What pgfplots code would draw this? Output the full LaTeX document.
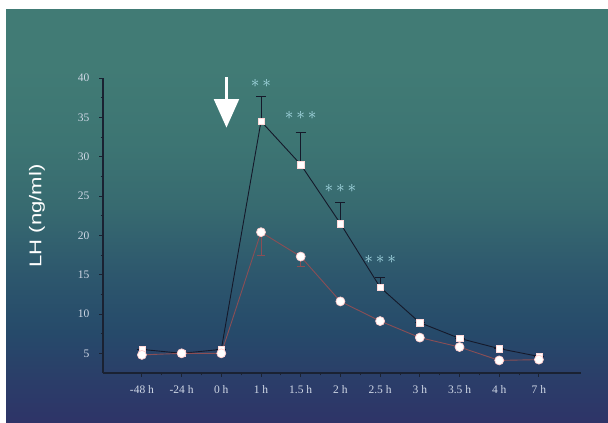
\documentclass[border=0pt]{standalone}
\usepackage{fontspec}
\setmainfont{Liberation Serif}
\newfontfamily\labelfont{Liberation Sans}
\usepackage{pgfplots}
\pgfplotsset{compat=1.18}
\usepackage{pgfplotstable}

\definecolor{bgA}{HTML}{2E3468}
\definecolor{bgB}{HTML}{2B3D69}
\definecolor{bgC}{HTML}{264A6A}
\definecolor{bgD}{HTML}{2D576D}
\definecolor{bgE}{HTML}{376A70}
\definecolor{bgF}{HTML}{3D7573}
\definecolor{bgG}{HTML}{417B75}
\definecolor{axcol}{HTML}{1A2232}
\definecolor{ticklab}{HTML}{D0D8E6}
\definecolor{starcol}{HTML}{A8DCE6}
\definecolor{sqline}{HTML}{15192A}
\definecolor{ciline}{HTML}{8A4E55}

\pgfdeclareverticalshading{bgshade}{100bp}{%
  color(0bp)=(bgA); color(25bp)=(bgA); color(30bp)=(bgB); color(36bp)=(bgC);
  color(43bp)=(bgD); color(51bp)=(bgE); color(59bp)=(bgF); color(68bp)=(bgG);
  color(75bp)=(bgG); color(100bp)=(bgG)}

\pgfplotstableread{
idx sq sqerr ci cierr
0 5.5 0 4.8 0
1 5.0 0 5.0 0
2 5.5 0 5.0 0
3 34.5 3.2 20.4 2.9
4 29.0 4.1 17.3 1.3
5 21.5 2.7 11.6 0
6 13.4 1.3 9.1 0
7 8.9 0 7.0 0
8 6.9 0 5.8 0
9 5.6 0 4.1 0
10 4.6 0 4.2 0
}\lhdata

\newcommand{\st}{{\ast}}

\begin{document}
\begin{tikzpicture}
\useasboundingbox (0pt,0pt) rectangle (608pt,423pt);
\fill[white] (0pt,0pt) rectangle (608pt,423pt);
\shade[shading=bgshade] (6pt,0pt) rectangle (608pt,413pt);
\node[rotate=90, text=white, font=\labelfont\fontsize{17}{20}\selectfont] at (37pt,207pt)
  {\scalebox{1.3}[1]{LH (ng/ml)}};
\begin{axis}[
  at={(103pt,50pt)}, anchor=south west,
  scale only axis, width=478pt, height=295pt,
  xmin=-0.98, xmax=11.06, ymin=2.5, ymax=40,
  axis lines=left,
  axis line style={axcol, line width=1.3pt, -},
  xtick={0,...,10},
  xticklabels={-48 h,-24 h,0 h,1 h,1.5 h,2 h,2.5 h,3 h,3.5 h,4 h,7 h},
  ytick={5,10,...,40},
  minor y tick num=1,
  minor x tick num=1,
  tick align=outside,
  major tick length=4pt,
  minor tick length=2.5pt,
  tick style={axcol, line width=0.9pt},
  /pgf/number format/assume math mode=true,
  tick label style={text=ticklab, font=\fontsize{11.5}{13}\selectfont},
  yticklabel style={xshift=-6pt},
  xticklabel style={yshift=-5pt},
  clip=false,
]
% square series (black line)
\addplot[sqline, line width=0.9pt,
  mark=square*, mark size=3.2pt,
  mark options={fill=white, draw=white!85!red, line width=0.3pt},
  error bars/.cd, y dir=plus, y explicit,
  error bar style={sqline, line width=0.9pt},
  error mark options={rotate=90, mark size=5pt, sqline, line width=0.9pt}]
  table[x=idx, y=sq, y error=sqerr] {\lhdata};
% circle series (red line)
\addplot[ciline, line width=0.9pt,
  mark=*, mark size=4.5pt,
  mark options={fill=white, draw=white!80!red, line width=0.7pt},
  error bars/.cd, y dir=minus, y explicit,
  error bar style={ciline, line width=0.9pt},
  error mark options={rotate=90, mark size=4pt, ciline, line width=0.9pt}]
  table[x=idx, y=ci, y error=cierr] {\lhdata};
% significance stars
\node[text=starcol, inner sep=0pt, font=\fontsize{18}{18}\selectfont] at (axis cs:3,39.3) {$\st\,\st$};
\node[text=starcol, inner sep=0pt, font=\fontsize{18}{18}\selectfont] at (axis cs:4,35.2) {$\st\,\st\,\st$};
\node[text=starcol, inner sep=0pt, font=\fontsize{18}{18}\selectfont] at (axis cs:5,25.9) {$\st\,\st\,\st$};
\node[text=starcol, inner sep=0pt, font=\fontsize{18}{18}\selectfont] at (axis cs:6,16.9) {$\st\,\st\,\st$};
% injection arrow
\draw[white, line width=3pt] (axis cs:2.13,40.1) -- (axis cs:2.13,37.0);
\fill[white] (axis cs:1.81,37.3) -- (axis cs:2.45,37.3) -- (axis cs:2.13,33.7) -- cycle;
\end{axis}
\end{tikzpicture}
\end{document}
